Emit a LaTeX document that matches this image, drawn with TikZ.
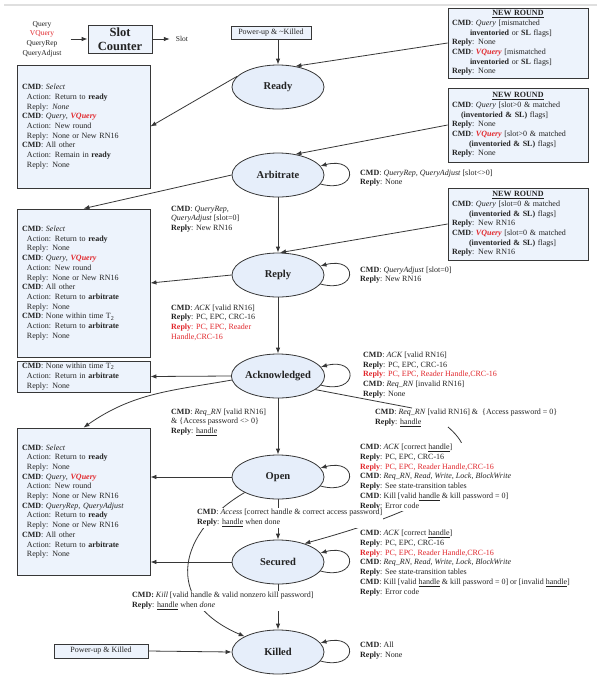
\documentclass[tikz,border=0pt]{standalone}
\usepackage{fontspec}
\setmainfont{Liberation Serif}
\usetikzlibrary{arrows.meta,shapes.geometric}
\definecolor{bfill}{RGB}{237,243,252}
\definecolor{efill}{RGB}{230,238,250}
\definecolor{lnc}{RGB}{55,55,55}
\definecolor{tx}{RGB}{35,35,35}
\definecolor{rd}{RGB}{225,40,45}
\newcommand\CMx{\textbf{CMD}: }
\newcommand\RPx{\textbf{Reply}: }
\newcommand\RRx{\textcolor{rd}{\textbf{Reply}: PC, EPC, Reader Handle,CRC-16}}
\newcommand\VQx{\textcolor{rd}{\textbf{\textit{VQuery}}}}
\newcommand\INx{\hspace*{5pt}}
\newcommand\NRx{\makebox[132pt][c]{\underline{\textbf{NEW ROUND}}}}
\begin{document}
\begin{tikzpicture}[x=1pt,y=-1pt,
  lbox/.style={rectangle,draw=lnc,fill=bfill,line width=0.8pt,text width=123pt,align=left,
    inner xsep=5pt,inner ysep=0pt,minimum width=133pt,font=\fontsize{8}{9.7}\selectfont,text=tx},
  nrbox/.style={rectangle,draw=lnc,fill=bfill,line width=0.8pt,text width=132pt,align=left,
    inner xsep=4pt,inner ysep=0pt,minimum width=140pt,font=\fontsize{8}{9.7}\selectfont,text=tx},
  st/.style={ellipse,draw=lnc,fill=efill,line width=0.8pt,minimum width=92pt,minimum height=44pt,
    inner sep=0pt,font=\fontsize{10.5}{12}\selectfont\bfseries,text=tx},
  lbl/.style={anchor=west,align=left,inner sep=0pt,font=\fontsize{8}{9.7}\selectfont,text=tx},
  wlbl/.style={lbl,fill=white,inner sep=1pt},
  pbox/.style={rectangle,draw=lnc,fill=bfill,line width=0.8pt,inner sep=0pt,font=\fontsize{8}{9.7}\selectfont,text=tx},
  arr/.style={draw=lnc,line width=0.8pt,-{Latex[length=6pt,width=4.5pt]}},
  pl/.style={draw=lnc,line width=0.8pt}
]
\useasboundingbox (0,0) rectangle (606,681);
\fill[white] (0,0) rectangle (606,681);
\draw[gray!25,line width=1.2pt] (4,5) -- (597,5);

% top slot counter
\node[lbl,anchor=center,align=center,font=\fontsize{7.5}{9.7}\selectfont] (inputs) at (42,39)
  {Query\\\textcolor{rd}{VQuery}\\QueryRep\\QueryAdjust};
\node[pbox,minimum width=64pt,minimum height=28pt,align=center,font=\fontsize{12.5}{14}\selectfont\bfseries] (sc) at (120,39) {Slot\\Counter};
\node[lbl,anchor=center,font=\fontsize{7.5}{9}\selectfont] (slot) at (182,39) {Slot};
\draw[arr] ([xshift=9pt]inputs.east) -- (sc.west);
\draw[arr] (sc.east) -- ([xshift=-6pt]slot.west);

% states
\node[pbox,minimum width=80pt,minimum height=13pt] (pk) at (271,33) {Power-up \& \textasciitilde Killed};
\node[st] (ready) at (278,87) {Ready};
\node[st] (arb) at (278,175) {Arbitrate};
\node[st] (reply) at (278,275) {Reply};
\node[st] (ack) at (278,376) {Acknowledged};
\node[st] (open) at (278,477) {Open};
\node[st] (sec) at (278,562) {Secured};
\node[st] (killed) at (278,652) {Killed};
\node[pbox,minimum width=94pt,minimum height=14pt] (pkd) at (101,651) {Power-up \& Killed};

% left boxes
\node[lbox,minimum height=123pt] (b1) at (83.5,126.5) {%
\CMx\textit{Select}\\
\INx Action: Return to \textbf{ready}\\
\INx Reply: \textit{None}\\
\CMx\textit{Query}, \VQx\\
\INx Action: New round\\
\INx Reply: None or New RN16\\
\CMx All other\\
\INx Action: Remain in \textbf{ready}\\
\INx Reply: None};

\node[lbox,minimum height=148pt] (b2) at (83.5,283) {%
\CMx\textit{Select}\\
\INx Action: Return to \textbf{ready}\\
\INx Reply: None\\
\CMx\textit{Query}, \VQx\\
\INx Action: New round\\
\INx Reply: None or New RN16\\
\CMx All other\\
\INx Action: Return to \textbf{arbitrate}\\
\INx Reply: None\\
\CMx None within time T\textsubscript{2}\\
\INx Action: Return to \textbf{arbitrate}\\
\INx Reply: None};

\node[lbox,minimum height=31pt] (b3) at (83.5,376.5) {%
\CMx None within time T\textsubscript{2}\\
\INx Action: Return in \textbf{arbitrate}\\
\INx Reply: None};

\node[lbox,minimum height=147pt] (b4) at (83.5,501.5) {%
\CMx\textit{Select}\\
\INx Action: Return to \textbf{ready}\\
\INx Reply: None\\
\CMx\textit{Query}, \VQx\\
\INx Action: New round\\
\INx Reply: None or New RN16\\
\CMx\textit{QueryRep}, \textit{QueryAdjust}\\
\INx Action: Return to \textbf{ready}\\
\INx Reply: None or New RN16\\
\CMx All other\\
\INx Action: Return to \textbf{arbitrate}\\
\INx Reply: None};

% right NEW ROUND boxes
\node[nrbox,minimum height=70pt] (nr1) at (518,43) {%
\NRx\\
\CMx\textit{Query} [mismatched\\
\hspace*{18pt}\textbf{inventoried} or \textbf{SL} flags]\\
\RPx None\\
\CMx\VQx{} [mismatched\\
\hspace*{18pt}\textbf{inventoried} or \textbf{SL} flags]\\
\RPx None};

\node[nrbox,minimum height=74pt] (nr2) at (518,125) {%
\NRx\\
\CMx\textit{Query} [slot>0 \& matched\\
\hspace*{9pt}\textbf{(inventoried \& SL)} flags]\\
\RPx None\\
\CMx\VQx{} [slot>0 \& matched\\
\hspace*{17pt}\textbf{(inventoried \& SL)} flags]\\
\RPx None};

\node[nrbox,minimum height=72pt] (nr3) at (518,224) {%
\NRx\\
\CMx\textit{Query} [slot=0 \& matched\\
\hspace*{17pt}\textbf{(inventoried \& SL)} flags]\\
\RPx New RN16\\
\CMx\VQx{} [slot=0 \& matched\\
\hspace*{17pt}\textbf{(inventoried \& SL)} flags]\\
\RPx New RN16};

% connectors: main chain
\draw[arr] (pk.south -| ready.north) -- (ready.north);
\draw[arr] (arb.south) -- (reply.north);
\draw[arr] (reply.south) -- (ack.north);
\draw[arr] (ack.south) -- (open.north);
\draw[arr] (open.south) -- (sec.north);
\draw[arr] (sec.south) -- (killed.north);
\draw[arr] (pkd.east) -- (killed.west);

% from new round boxes
\draw[arr] (nr1.west) -- (ready.50);
\draw[arr] (nr2.west) -- (arb.50);
\draw[arr] (nr3.west) -- (reply.85);

% to left boxes
\draw[arr] (ready.165) -- (b1.east);
\draw[arr] (arb.west) -- (b2.north);
\draw[arr] (reply.west) -- (b2.east);
\draw[arr] (ack.west) -- (b3.east);
\draw[arr] (ack.185) to[out=190,in=35] (b4.north);
\draw[arr] (open.west) -- (open.west -| b4.east);
\draw[arr] (sec.west) -- (sec.west -| b4.east);

% self loops
\foreach \s in {arb,reply,ack,open,sec,killed}{
  \draw[arr] (\s.-12) .. controls +(38,10) and +(38,-10) .. (\s.12);
}

% Ack -> Secured (password = 0)
\coordinate (c1) at (412,408);
\coordinate (c2) at (448,427);
\draw[pl] (ack.-20) -- (c1);
\draw[arr] (c2) .. controls (510,480) and (390,520) .. (sec.35);

% Kill curve Open -> Killed
\draw[arr] (open.205) .. controls (180,530) and (160,600) .. (killed.155);

% labels
\node[lbl] (l_arb) at (360,178) {\CMx\textit{QueryRep, QueryAdjust} [slot<>0]\\\RPx None};
\node[lbl] (l_ar) at (171,219) {\CMx\textit{QueryRep,}\\\textit{QueryAdjust} [slot=0]\\\RPx New RN16};
\node[lbl] (l_rep) at (360,275) {\CMx\textit{QueryAdjust} [slot=0]\\\RPx New RN16};
\node[lbl] (l_ra) at (171,322.5) {\CMx\textit{ACK} [valid RN16]\\\RPx PC, EPC, CRC-16\\
  \textcolor{rd}{\textbf{Reply}: PC, EPC, Reader}\\\textcolor{rd}{Handle,CRC-16}};
\node[lbl] (l_ack) at (363,375) {\CMx\textit{ACK} [valid RN16]\\\RPx PC, EPC, CRC-16\\\RRx\\
  \CMx\textit{Req\_RN} [invalid RN16]\\\RPx None};
\node[lbl] (l_ao) at (171,422) {\CMx\textit{Req\_RN} [valid RN16]\\\& \{Access password <> 0\}\\\RPx\underline{handle}};
\node[lbl] (l_as) at (375,418) {\CMx\textit{Req\_RN} [valid RN16] \& \ \{Access password = 0\}\\\RPx\underline{handle}};
\node[wlbl] (l_open) at (359,477) {\CMx\textit{ACK} [correct \underline{handle}]\\\RPx PC, EPC, CRC-16\\\RRx\\
  \CMx\textit{Req\_RN, Read, Write, Lock, BlockWrite}\\\RPx See state-transition tables\\
  \CMx Kill [valid \underline{handle} \& kill password = 0]\\\RPx Error code};
\node[wlbl] (l_os) at (196,518) {\CMx\textit{Access} [correct handle \& correct access password]\\\RPx\underline{handle} when done};
\node[lbl] (l_sec) at (360,563) {\CMx\textit{ACK} [correct \underline{handle}]\\\RPx PC, EPC, CRC-16\\\RRx\\
  \CMx\textit{Req\_RN, Read, Write, Lock, BlockWrite}\\\RPx See state-transition tables\\
  \CMx Kill [valid \underline{handle} \& kill password = 0] or [invalid \underline{handle}]\\\RPx Error code};
\node[wlbl] (l_kill) at (131,601) {\textbf{CMD:} \textit{Kill} [valid handle \& valid nonzero kill password]\\\RPx\underline{handle} when \textit{done}};
\node[lbl] (l_kd) at (360,650.5) {\CMx All\\\RPx None};
\end{tikzpicture}
\end{document}
